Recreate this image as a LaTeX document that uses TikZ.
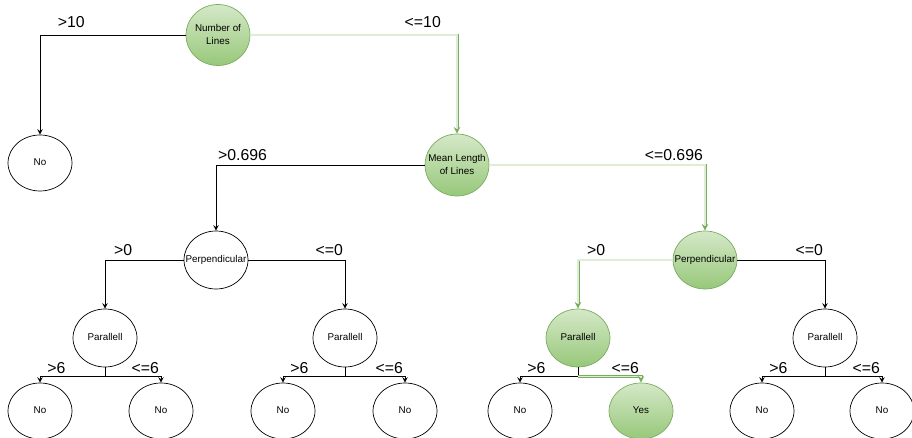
\documentclass[tikz,border=0pt]{standalone}
\usepackage{fontspec}
\setmainfont{Liberation Sans}
\usepackage{xcolor}
\usetikzlibrary{shapes.geometric}
\definecolor{pathgreen}{RGB}{122,172,94}
\definecolor{topgreen}{RGB}{213,232,200}
\definecolor{botgreen}{RGB}{151,200,122}
\definecolor{palegreen}{RGB}{222,238,212}
\newcommand{\ntext}[1]{\makebox[0pt]{\begin{tabular}{@{}c@{}}#1\end{tabular}}}
\begin{document}
\begin{tikzpicture}[%
    x=0.02cm,y=-0.02cm,->,>=stealth,
    test/.style={%
      ellipse,draw,minimum width=1.28cm,minimum height=1.16cm,inner sep=0pt,
      font=\fontsize{5.6}{7.4}\selectfont},
    leaf/.style={test,minimum height=1.12cm},
    chosen/.style={draw=pathgreen,top color=topgreen,bottom color=botgreen},
    taken/.style={draw=pathgreen,line width=0.45pt,double=palegreen,double distance=0.8pt},
    lft/.style={anchor=south west,inner sep=1pt,yshift=1.5pt,font=\fontsize{9}{10}\selectfont},
    rgt/.style={anchor=south east,inner sep=1pt,yshift=1.5pt,font=\fontsize{9}{10}\selectfont},
    lowlft/.style={lft,yshift=-1.2pt,xshift=3pt},
    lowrgt/.style={rgt,yshift=-1.2pt}
  ]
    \useasboundingbox (0,0) rectangle (912,438);

    \node[test,chosen,minimum height=1.22cm] (num)  at (218,35)  {\ntext{Number of\\Lines}};
    \node[leaf]                              (no0)  at (40,163)  {\ntext{No}};
    \node[test,chosen,minimum height=1.24cm] (mean) at (457,165) {\ntext{Mean Length\\of Lines}};
    \node[test]                              (pl)   at (216,260) {\ntext{Perpendicular}};
    \node[test,chosen]                       (pr)   at (705,260) {\ntext{Perpendicular}};
    \node[test]                              (pa1)  at (105,338) {\ntext{Parallell}};
    \node[test]                              (pa2)  at (345,338) {\ntext{Parallell}};
    \node[test,chosen]                       (pa3)  at (578,338) {\ntext{Parallell}};
    \node[test]                              (pa4)  at (825,338) {\ntext{Parallell}};
    \node[leaf] (l1) at (40,411)  {\ntext{No}};
    \node[leaf] (l2) at (161,411) {\ntext{No}};
    \node[leaf] (l3) at (283,411) {\ntext{No}};
    \node[leaf] (l4) at (405,411) {\ntext{No}};
    \node[leaf] (l5) at (520,411) {\ntext{No}};
    \node[leaf,chosen] (l6) at (641,411) {\ntext{Yes}};
    \node[leaf] (l7) at (762,411) {\ntext{No}};
    \node[leaf] (l8) at (882,411) {\ntext{No}};

    % root
    \draw (num.west) -| node[pos=0.5,lft,xshift=9pt,yshift=1.5pt] {>10} (no0.north);
    \draw[taken] (num.east) -| node[pos=0.5,rgt,xshift=-8pt,yshift=1.5pt] {<=10} (mean.north);
    % mean length
    \draw (mean.west) -| node[pos=0.5,lft] {>0.696} (pl.north);
    \draw[taken] (mean.east) -| node[pos=0.5,rgt] {<=0.696} (pr.north);
    % perpendicular
    \draw (pl.west) -| node[pos=0.5,lft,xshift=4pt] {>0} (pa1.north);
    \draw (pl.east) -| node[pos=0.5,rgt] {<=0} (pa2.north);
    \draw[taken] (pr.west) -| node[pos=0.5,lft,xshift=4pt] {>0} (pa3.north);
    \draw (pr.east) -| node[pos=0.5,rgt] {<=0} (pa4.north);
    % parallell
    \draw (pa1.south) -- ++(0,9) -| node[pos=0.5,lowlft] {>6} (l1.north);
    \draw (pa1.south) -- ++(0,9) -| node[pos=0.5,lowrgt] {<=6} (l2.north);
    \draw (pa2.south) -- ++(0,9) -| node[pos=0.5,lowlft] {>6} (l3.north);
    \draw (pa2.south) -- ++(0,9) -| node[pos=0.5,lowrgt] {<=6} (l4.north);
    \draw (pa3.south) -- ++(0,9) -| node[pos=0.5,lowlft] {>6} (l5.north);
    \path (pa3.south) -- ++(0,9) coordinate (split3);
    \draw[taken] (split3) -| node[pos=0.5,lowrgt] {<=6} (l6.north);
    \draw (pa4.south) -- ++(0,9) -| node[pos=0.5,lowlft] {>6} (l7.north);
    \draw (pa4.south) -- ++(0,9) -| node[pos=0.5,lowrgt] {<=6} (l8.north);
  \end{tikzpicture}
\end{document}
